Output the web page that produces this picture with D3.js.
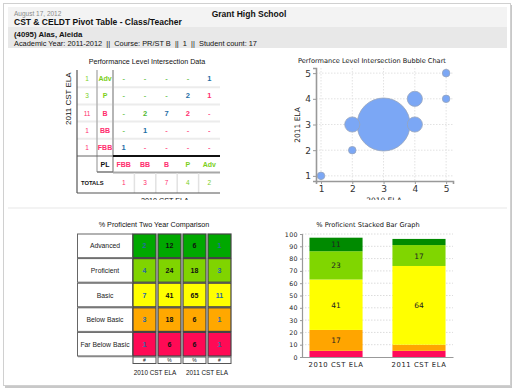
<!DOCTYPE html>
<html>
<head>
<meta charset="utf-8">
<script src="https://cdn.jsdelivr.net/npm/d3@7"></script>
<style>
  body { margin: 0; background: #fff; }
  svg { display: block; }
</style>
</head>
<body>
<svg class="report"></svg>
<script>
// header
const reportDate = "August 17, 2012"
const reportTitle = "CST & CELDT Pivot Table - Class/Teacher"
const schoolName = "Grant High School"
const teacherName = "(4095) Alas, Aleida"
const courseLine = "Academic Year: 2011-2012  ||  Course: PR/ST B  ||  1  ||  Student count: 17"

// intersection table (rows = 2011 level, cols = 2010 level)
const cols2010 = ["FBB", "BB", "B", "P", "Adv"]
const rows2011 = ["Adv", "P", "B", "BB", "FBB"]
const intersection = [
    [0, 0, 0, 0, 1],
    [0, 0, 0, 2, 1],
    [0, 2, 7, 2, 0],
    [0, 1, 0, 0, 0],
    [1, 0, 0, 0, 0]
]
const rowTotals = [1, 3, 11, 1, 1]
const colTotals = [1, 3, 7, 4, 2]

// bubble chart points [2010 level, 2011 level, count]
const bubbles = [
    [3, 3, 7], [2, 3, 2], [4, 3, 2], [4, 4, 2],
    [1, 1, 1], [2, 2, 1], [5, 4, 1], [5, 5, 1]
]
const bubbleTicks = [1, 2, 3, 4, 5]

// two year comparison
const profLevels = ["Advanced", "Proficient", "Basic", "Below Basic", "Far Below Basic"]
const count2010 = [2, 4, 7, 3, 1]
const pct2010 = [12, 24, 41, 18, 6]
const pct2011 = [6, 18, 65, 6, 6]
const count2011 = [1, 3, 11, 1, 1]
const compHeaders = ["#", "%", "%", "#"]
const yearLabels = ["2010 CST ELA", "2011 CST ELA"]

// stacked bars, bottom to top
const stackLevels = ["Far Below Basic", "Below Basic", "Basic", "Proficient", "Advanced"]
const stack2010 = [5, 17, 41, 23, 11]
const stack2011 = [5, 5, 64, 17, 5]

const levelColor = { "Advanced": "#00a800", "Proficient": "#80d400", "Basic": "#ffff00", "Below Basic": "#ffa800", "Far Below Basic": "#ff0a55" }
const barColor = { "Advanced": "#008a00", "Proficient": "#80d600", "Basic": "#ffff00", "Below Basic": "#ffa500", "Far Below Basic": "#ff0a5a" }

const sans = "'Liberation Sans', Arial, sans-serif"
const deja = "'DejaVu Sans', sans-serif"

const svg = d3.select("svg.report").attr("width", 514).attr("height", 390)

// page
svg.append("rect").attr("x", 5).attr("y", 5).attr("width", 507).attr("height", 383).attr("fill", "#c8c8c8")
svg.append("rect").attr("x", 3.5).attr("y", 3.5).attr("width", 507).attr("height", 382)
    .attr("fill", "#fff").attr("stroke", "#d0d0d0")

svg.append("rect").attr("x", 8).attr("y", 7).attr("width", 499).attr("height", 20).attr("fill", "#f3f3f3")
svg.append("rect").attr("x", 8).attr("y", 27).attr("width", 499).attr("height", 21).attr("fill", "#e8e8e8")
svg.append("rect").attr("x", 8).attr("y", 207).attr("width", 499).attr("height", 2).attr("fill", "#f3f3f3")

svg.append("text").attr("x", 14).attr("y", 15.5).text(reportDate)
    .style("font", "6.5px " + sans).attr("fill", "#8a8a8a")
svg.append("text").attr("x", 14).attr("y", 24.5).text(reportTitle)
    .style("font", "bold 8.5px " + sans).attr("fill", "#111")
svg.append("text").attr("x", 249).attr("y", 16.5).attr("text-anchor", "middle").text(schoolName)
    .style("font", "bold 8.5px " + sans).attr("fill", "#111")
svg.append("text").attr("x", 14).attr("y", 37).text(teacherName)
    .style("font", "bold 7.8px " + sans).attr("fill", "#111")
svg.append("text").attr("x", 14).attr("y", 45.5).text(courseLine).attr("xml:space", "preserve")
    .style("font", "7.4px " + sans).style("white-space", "pre").attr("fill", "#111")

const defs = svg.append("defs")
defs.append("clipPath").attr("id", "topClip").append("rect")
    .attr("x", 8).attr("y", 71).attr("width", 499).attr("height", 129)
defs.append("clipPath").attr("id", "panelClip").append("rect")
    .attr("x", 8).attr("y", 50).attr("width", 499).attr("height", 150)

// ---------- intersection table ----------
const tbl = svg.append("g")
const colX = d3.scaleBand().domain(cols2010).range([113, 220])
const rowY = d3.scaleBand().domain(rows2011).range([70, 156])
const rank = { "FBB": 1, "BB": 2, "B": 3, "P": 4, "Adv": 5 }
const green = "#7ccf1c", pink = "#ff2d6e", blue = "#1f6ea6"
const lvlCol = l => rank[l] >= 4 ? green : pink

tbl.append("text").attr("x", 147).attr("y", 63.5).attr("text-anchor", "middle")
    .text("Performance Level Intersection Data").style("font", "7.2px " + sans).attr("fill", "#111")

// row separators
rows2011.slice(1).forEach(r => {
    tbl.append("line").attr("x1", 77).attr("x2", 220).attr("y1", rowY(r)).attr("y2", rowY(r))
        .attr("stroke", "#ececec").attr("stroke-width", 2)
})
tbl.append("line").attr("x1", 97).attr("x2", 97).attr("y1", 70).attr("y2", 172).attr("stroke", "#b5b5b5").attr("stroke-width", 1.5)
tbl.append("line").attr("x1", 113).attr("x2", 113).attr("y1", 70).attr("y2", 172).attr("stroke", "#b5b5b5").attr("stroke-width", 2)
tbl.append("line").attr("x1", 97).attr("x2", 113).attr("y1", 172).attr("y2", 172).attr("stroke", "#777").attr("stroke-width", 1.5)
tbl.append("line").attr("x1", 77).attr("x2", 113).attr("y1", 156).attr("y2", 156).attr("stroke", "#666").attr("stroke-width", 1)
tbl.append("line").attr("x1", 113).attr("x2", 220).attr("y1", 156).attr("y2", 156).attr("stroke", "#111").attr("stroke-width", 1.8)
tbl.append("line").attr("x1", 113).attr("x2", 220).attr("y1", 172.5).attr("y2", 172.5).attr("stroke", "#a8a8a8").attr("stroke-width", 2)
cols2010.slice(1).forEach(c => {
    tbl.append("line").attr("x1", colX(c)).attr("x2", colX(c)).attr("y1", 173).attr("y2", 193)
        .attr("stroke", "#e2e2e2").attr("stroke-width", 1.5)
})
tbl.append("line").attr("x1", 77).attr("x2", 220).attr("y1", 193).attr("y2", 193).attr("stroke", "#555").attr("stroke-width", 1.2)
tbl.append("line").attr("x1", 77).attr("x2", 77).attr("y1", 70).attr("y2", 193).attr("stroke", "#555").attr("stroke-width", 1.2)

rows2011.forEach((r, i) => {
    const cy = rowY(r) + rowY.bandwidth() / 2 + 2.5
    tbl.append("text").attr("x", 87).attr("y", cy).attr("text-anchor", "middle").text(rowTotals[i])
        .style("font", "6.5px " + sans).attr("fill", lvlCol(r))
    tbl.append("text").attr("x", 105).attr("y", cy).attr("text-anchor", "middle").text(r)
        .style("font", "bold 7px " + sans).attr("fill", lvlCol(r))
    cols2010.forEach((c, j) => {
        const v = intersection[i][j]
        const col = rank[r] === rank[c] ? blue : (rank[r] > rank[c] ? "#4fb830" : pink)
        tbl.append("text").attr("x", colX(c) + colX.bandwidth() / 2).attr("y", cy)
            .attr("text-anchor", "middle").text(v ? v : "-")
            .style("font", "bold 7.5px " + sans).attr("fill", col).attr("opacity", v ? 1 : 0.75)
    })
})
tbl.append("text").attr("x", 105).attr("y", 166.5).attr("text-anchor", "middle").text("PL")
    .style("font", "bold 7px " + sans).attr("fill", "#111")
tbl.append("text").attr("x", 81).attr("y", 184.5).text("TOTALS")
    .style("font", "bold 5.8px " + sans).attr("fill", "#111")
cols2010.forEach((c, j) => {
    const cx = colX(c) + colX.bandwidth() / 2
    tbl.append("text").attr("x", cx).attr("y", 166.5).attr("text-anchor", "middle").text(c)
        .style("font", "bold 7px " + sans).attr("fill", lvlCol(c))
    tbl.append("text").attr("x", cx).attr("y", 185).attr("text-anchor", "middle").text(colTotals[j])
        .style("font", "6.5px " + sans).attr("fill", lvlCol(c))
})
svg.append("g").attr("clip-path", "url(#topClip)").append("text")
    .attr("transform", "translate(71,125) rotate(-90)").text("2011 CST ELA")
    .style("font", "8px " + sans).attr("fill", "#111")
svg.append("g").attr("clip-path", "url(#panelClip)").append("text")
    .attr("x", 165).attr("y", 202.8).attr("text-anchor", "middle").text("2010 CST ELA")
    .style("font", "7.2px " + sans).attr("fill", "#111")

// ---------- bubble chart ----------
const bub = svg.append("g")
const bx = d3.scaleLinear().domain([0.84, 5.22]).range([316, 453])
const by = d3.scaleLinear().domain([0.8, 5.2]).range([181, 68])
const br = d3.scaleLinear().domain([0, 7]).range([0, 26.5])

bub.append("text").attr("x", 372).attr("y", 63).attr("text-anchor", "middle")
    .text("Performance Level Intersection Bubble Chart").style("font", "6.6px " + deja).attr("fill", "#111")

bubbleTicks.forEach(t => {
    bub.append("line").attr("x1", bx(t)).attr("x2", bx(t)).attr("y1", 68).attr("y2", 181)
        .attr("stroke", "#e2e2e2").attr("stroke-dasharray", "1.5,1.5")
    bub.append("line").attr("x1", 316).attr("x2", 453).attr("y1", by(t)).attr("y2", by(t))
        .attr("stroke", "#e2e2e2").attr("stroke-dasharray", "1.5,1.5")
})

bub.selectAll("circle").data(bubbles.slice().sort((a, b) => b[2] - a[2])).enter().append("circle")
    .attr("cx", d => bx(d[0])).attr("cy", d => by(d[1])).attr("r", d => br(d[2]))
    .attr("fill", "#7ba7f5").attr("stroke", "#97a4bd").attr("stroke-width", 0.8)

const bxAxis = bub.append("g").attr("transform", "translate(0,181)")
    .call(d3.axisBottom(bx).tickValues(bubbleTicks).tickSize(3).tickPadding(2).tickFormat(d3.format("d")))
bxAxis.select(".domain").attr("stroke", "#999").attr("stroke-width", 1.6)
const byAxis = bub.append("g").attr("transform", "translate(316,0)")
    .call(d3.axisLeft(by).tickValues(bubbleTicks).tickSize(3).tickPadding(2).tickFormat(d3.format("d")))
byAxis.select(".domain").attr("stroke", "#999").attr("stroke-width", 1.6)
bub.selectAll(".tick line").attr("stroke", "#999")
bub.selectAll(".tick text").style("font", "9px " + deja).attr("fill", "#333")

bub.append("text").attr("transform", "translate(300,125) rotate(-90)").attr("text-anchor", "middle")
    .text("2011 ELA").style("font", "7.5px " + deja).attr("fill", "#222")
svg.append("g").attr("clip-path", "url(#panelClip)").append("text")
    .attr("x", 384).attr("y", 202.8).attr("text-anchor", "middle").text("2010 ELA")
    .style("font", "7.5px " + deja).attr("fill", "#222")

// ---------- two year comparison ----------
const cmp = svg.append("g")
const cy2 = d3.scaleBand().domain(profLevels).range([233, 356])
const compCols = [count2010, pct2010, pct2011, count2011]
const cx2 = d3.scaleBand().domain(d3.range(4)).range([132, 232])

cmp.append("text").attr("x", 154).attr("y", 226.5).attr("text-anchor", "middle")
    .text("% Proficient Two Year Comparison").style("font", "7.2px " + sans).attr("fill", "#111")

profLevels.forEach((lvl, i) => {
    const y0 = cy2(lvl), h = cy2.bandwidth()
    cmp.append("rect").attr("x", 77.5).attr("y", y0 + 1).attr("width", 55).attr("height", h - 1)
        .attr("fill", "#fff").attr("stroke", "#666").attr("stroke-width", 1)
    cmp.append("path").attr("d", `M${78},${y0 + h + 0.5}H${133}V${y0 + 1.5}`)
        .attr("fill", "none").attr("stroke", "#888").attr("stroke-width", 1.5)
    cmp.append("text").attr("x", 105).attr("y", y0 + h / 2 + 3).attr("text-anchor", "middle").text(lvl)
        .style("font", "6.8px " + sans).attr("fill", "#222")
    compCols.forEach((vals, j) => {
        const x0 = cx2(j)
        cmp.append("rect").attr("x", x0 + 1).attr("y", y0 + 1).attr("width", cx2.bandwidth() - 2).attr("height", h - 1)
            .attr("fill", levelColor[lvl]).attr("stroke", "#444").attr("stroke-width", 1.2)
        cmp.append("text").attr("x", x0 + cx2.bandwidth() / 2).attr("y", y0 + h / 2 + 3)
            .attr("text-anchor", "middle").text(vals[i])
            .style("font", "bold 7px " + sans)
            .attr("fill", compHeaders[j] === "#" ? "#2668a8" : "#111")
    })
})
compHeaders.forEach((hd, j) => {
    cmp.append("rect").attr("x", cx2(j) + 1).attr("y", 357).attr("width", cx2.bandwidth() - 2).attr("height", 6.5)
        .attr("fill", "#fff").attr("stroke", "#555").attr("stroke-width", 1)
    cmp.append("text").attr("x", cx2(j) + cx2.bandwidth() / 2).attr("y", 362.3).attr("text-anchor", "middle")
        .text(hd).style("font", "5px " + sans).attr("fill", "#111")
})
yearLabels.forEach((lab, k) => {
    cmp.append("text").attr("x", (cx2(2 * k) + cx2(2 * k + 1) + cx2.bandwidth()) / 2 - (k ? 0 : 2)).attr("y", 374.5)
        .attr("text-anchor", "middle").text(lab).style("font", "6.4px " + sans).attr("fill", "#111")
})

// ---------- stacked bar graph ----------
const stk = svg.append("g")
const sx = d3.scaleBand().domain(yearLabels).range([302, 453]).paddingInner(0.36).paddingOuter(0.09)
const sy = d3.scaleLinear().domain([0, 100]).range([357, 234])

stk.append("text").attr("x", 368).attr("y", 227).attr("text-anchor", "middle")
    .text("% Proficient Stacked Bar Graph").style("font", "6.6px " + deja).attr("fill", "#111")

d3.range(10, 101, 10).forEach(t => {
    stk.append("line").attr("x1", 302).attr("x2", 453).attr("y1", sy(t)).attr("y2", sy(t))
        .attr("stroke", "#dcdcdc").attr("stroke-dasharray", "1.5,1.5")
})

const rowsForStack = yearLabels.map(y => {
    const o = { year: y }
    stackLevels.forEach((lvl, i) => { o[lvl] = (y === yearLabels[0] ? stack2010 : stack2011)[i] })
    return o
})
const series = d3.stack().keys(stackLevels)(rowsForStack)

series.forEach(s => {
    s.forEach(d => {
        stk.append("rect").attr("x", sx(d.data.year)).attr("width", sx.bandwidth())
            .attr("y", sy(d[1])).attr("height", sy(d[0]) - sy(d[1]))
            .attr("fill", barColor[s.key])
        const v = d[1] - d[0]
        if (v >= 10) {
            stk.append("text").attr("x", sx(d.data.year) + sx.bandwidth() / 2).attr("y", sy((d[0] + d[1]) / 2) + 3)
                .attr("text-anchor", "middle").text(v).style("font", "7.5px " + deja).attr("fill", "#222")
        }
    })
})

const syAxis = stk.append("g").attr("transform", "translate(302,0)")
    .call(d3.axisLeft(sy).tickValues(d3.range(0, 101, 10)).tickSize(2).tickPadding(2))
const sxAxis = stk.append("g").attr("transform", "translate(0,357)")
    .call(d3.axisBottom(sx).tickSize(0).tickPadding(5))
syAxis.select(".domain").attr("stroke", "#999").attr("stroke-width", 1.2)
sxAxis.select(".domain").attr("stroke", "#999").attr("stroke-width", 1.2)
stk.selectAll(".tick line").attr("stroke", "#999")
syAxis.selectAll(".tick text").style("font", "6.3px " + deja).attr("fill", "#222").style("letter-spacing", "0.4px")
sxAxis.selectAll(".tick text").style("font", "6.8px " + deja).attr("fill", "#222").style("letter-spacing", "0.6px")
</script>
</body>
</html>
